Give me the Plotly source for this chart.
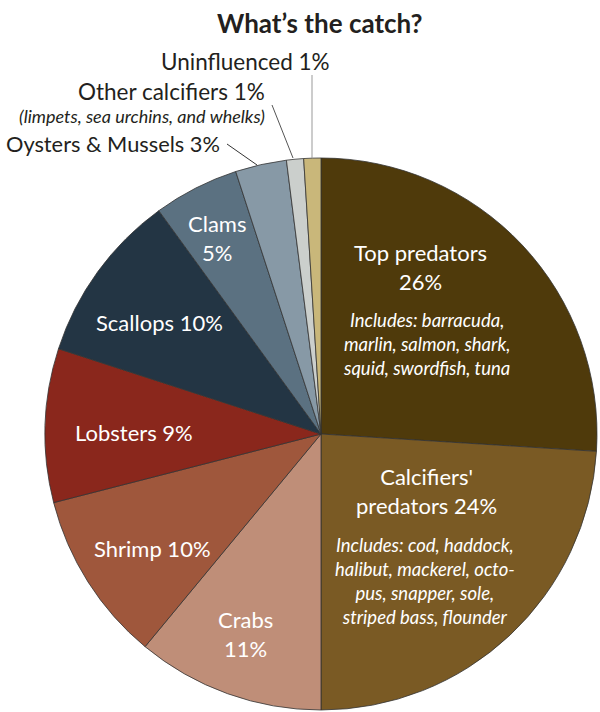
import plotly.graph_objects as go

# ---- data ----
labels = ["Top predators", "Calcifiers' predators", "Crabs", "Shrimp", "Lobsters",
          "Scallops", "Clams", "Oysters & Mussels", "Other calcifiers", "Uninfluenced"]
values = [26, 24, 11, 10, 9, 10, 5, 3, 1, 1]
colors = ["#4f3a0b", "#7a5a24", "#bf8e78", "#9f573c", "#8a271c",
          "#233544", "#5b7181", "#8799a6", "#cbcfcc", "#c9b77a"]
top_note = "Includes: barracuda,<br>marlin, salmon, shark,<br>squid, swordfish, tuna"
calc_note = "Includes: cod, haddock,<br>halibut, mackerel, octo-<br>pus, snapper, sole,<br>striped bass, flounder"
other_note = "(limpets, sea urchins, and whelks)"
title = "What’s the catch?"

W, H = 600, 712
FONT = "Lato"

def px(x):
    return x / W

def py(y):
    return 1 - y / H

cx, cy, r = 321, 434, 276

fig = go.Figure(go.Pie(
    labels=labels, values=values, sort=False, direction="clockwise", rotation=0,
    marker=dict(colors=colors, line=dict(color="#333333", width=0.8)),
    textinfo="none", hoverinfo="label+percent", showlegend=False,
    domain=dict(x=[px(cx - r), px(cx + r)], y=[py(cy + r), py(cy - r)]),
))

ann = []
def add(text, x, y, size=20, color="white", italic=False, xanchor="center", bold=False):
    t = text
    if italic:
        t = "<i>" + t + "</i>"
    if bold:
        t = "<b>" + t + "</b>"
    ann.append(dict(text=t, x=px(x), y=py(y), xref="paper", yref="paper",
                    showarrow=False, xanchor=xanchor, yanchor="middle",
                    font=dict(family=FONT, size=size, color=color)))

pct = {l: v for l, v in zip(labels, values)}

add(title, 320, 23, size=26, color="#231f20", bold=True)

IN = 22
IT = 18.5
# inside labels
add(f"Top predators<br>{pct['Top predators']}%", 420, 267, size=IN)
add(top_note, 426, 344, size=IT, italic=True)
add(f"Calcifiers'<br>predators {pct[labels[1]]}%", 426, 491, size=IN)
add(calc_note, 425, 581, size=IT, italic=True)
add(f"Crabs<br>{pct['Crabs']}%", 245, 634, size=IN)
add(f"Shrimp {pct['Shrimp']}%", 152, 548, size=IN)
add(f"Lobsters {pct['Lobsters']}%", 134, 432, size=IN)
add(f"Scallops {pct['Scallops']}%", 159, 322, size=IN)
add(f"Clams<br>{pct['Clams']}%", 217, 238, size=IN)

# outside labels
dark = "#231f20"
OUT = 22.5
add(f"Uninfluenced {pct['Uninfluenced']}%", 332, 61, size=OUT, color=dark, xanchor="right")
add(f"Other calcifiers {pct['Other calcifiers']}%", 267, 92, size=OUT, color=dark, xanchor="right")
add(other_note, 267, 116, size=18, color=dark, italic=True, xanchor="right")
add(f"Oysters & Mussels {pct['Oysters & Mussels']}%", 222, 143, size=21.8, color=dark, xanchor="right")

shapes = []
def line(x0, y0, x1, y1, color="#777777", width=1):
    shapes.append(dict(type="line", xref="paper", yref="paper",
                       x0=px(x0), y0=py(y0), x1=px(x1), y1=py(y1),
                       line=dict(color=color, width=width)))

line(312, 75, 312, 158, color="#999999")
line(272, 105, 293, 158, color="#555555")
line(227, 144, 257, 165, color="#333333")

fig.update_layout(
    width=W, height=H, margin=dict(l=0, r=0, t=0, b=0),
    paper_bgcolor="white", plot_bgcolor="white",
    annotations=ann, shapes=shapes,
)

fig.write_html("out.html", config={"displayModeBar": False},
               post_script="document.body.style.margin='0';document.body.style.padding='0';")
